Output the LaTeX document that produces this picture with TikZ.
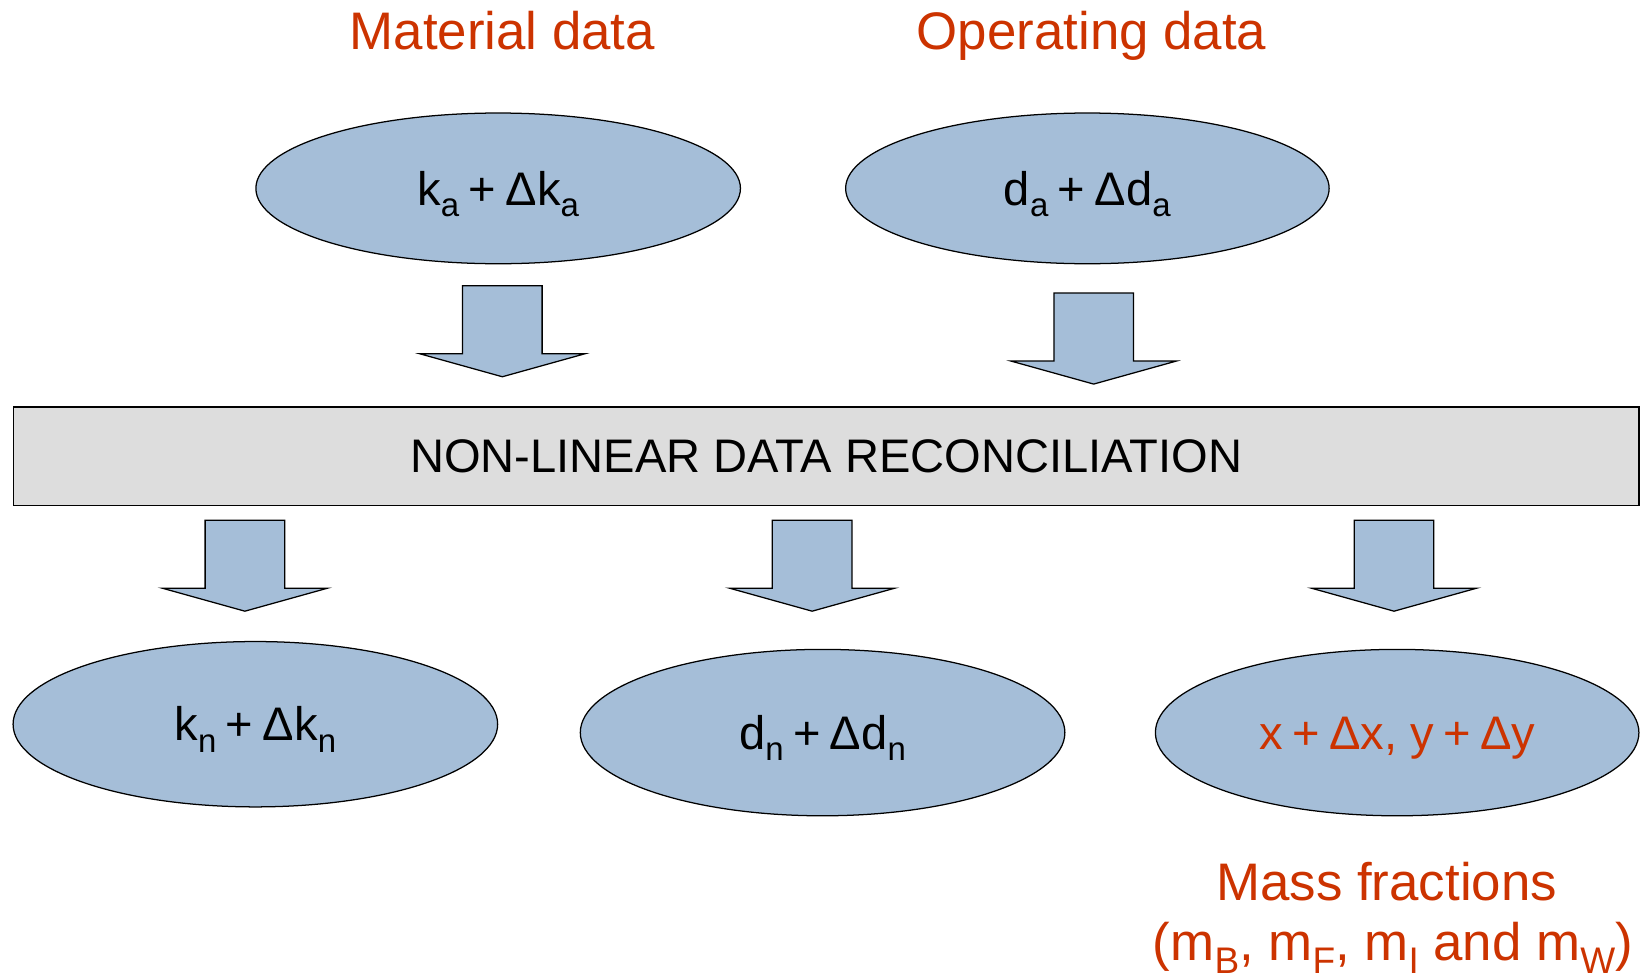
\documentclass[tikz,border=0pt]{standalone}
\usepackage{fontspec}
\setmainfont{Liberation Sans}
\usepackage{graphicx}
\usetikzlibrary{shapes.geometric}
\definecolor{fillblue}{RGB}{165,190,216}
\definecolor{boxgray}{RGB}{221,221,221}
\definecolor{labred}{RGB}{204,51,0}
\newcommand\lo[1]{\raisebox{-0.24em}{\scalebox{0.7}{#1}}}
\newcommand\gapsp{\hspace{0.2em}}
\begin{document}
\begin{tikzpicture}[x=1pt,y=-1pt,
  oval/.style={ellipse,draw=black,line width=1.2pt,fill=fillblue,inner sep=0pt,
    font=\fontsize{45}{54}\selectfont,text height=32pt,text depth=0pt},
  bar/.style={rectangle,draw=black,line width=1.2pt,fill=boxgray,inner sep=0pt,
    font=\fontsize{45}{54}\selectfont},
  lab/.style={text=labred,font=\fontsize{50.5}{60}\selectfont,anchor=base,inner sep=0pt},
  barrow/.pic={\draw[line width=1.2pt,fill=fillblue,line join=miter]
    (-38,-87) -- (38,-87) -- (38,-22) -- (79,-22) -- (0,0) -- (-79,-22) -- (-38,-22) -- cycle;}
]
\clip (0,0) rectangle (1568,933);
\useasboundingbox (0,0) rectangle (1568,933);

\node[lab] (mat) at (480,47) {Material data};
\node[lab] (op) at (1043,47) {Operating data};

\node[oval,minimum width=463pt,minimum height=144pt] (ka) at (476,180) {k\lo{a}\gapsp+\gapsp Δk\lo{a}};
\node[oval,minimum width=462pt,minimum height=144pt] (da) at (1039,180) {d\lo{a}\gapsp+\gapsp Δd\lo{a}};

\pic (ar1) at (480,360) {barrow};
\pic (ar2) at (1045,367) {barrow};

\node[bar,minimum width=1553pt,minimum height=94pt] (ndr) at (789.5,436) {NON-LINEAR DATA RECONCILIATION};

\pic (ar3) at (234,584) {barrow};
\pic (ar4) at (776,584) {barrow};
\pic (ar5) at (1332,584) {barrow};

\node[oval,minimum width=463pt,minimum height=158pt] (kn) at (244,692) {k\lo{n}\gapsp+\gapsp Δk\lo{n}};
\node[oval,minimum width=463pt,minimum height=159pt] (dn) at (786,700) {d\lo{n}\gapsp+\gapsp Δd\lo{n}};
\node[oval,minimum width=462pt,minimum height=159pt,text=labred] (xy) at (1335,700) {x\gapsp+\gapsp Δx, y\gapsp+\gapsp Δy};

\node[lab] (mf1) at (1325,860) {Mass fractions};
\node[lab] (mf2) at (1331,918) {(m\lo{B}, m\lo{F}, m\lo{I} and m\lo{W})};
\end{tikzpicture}
\end{document}
